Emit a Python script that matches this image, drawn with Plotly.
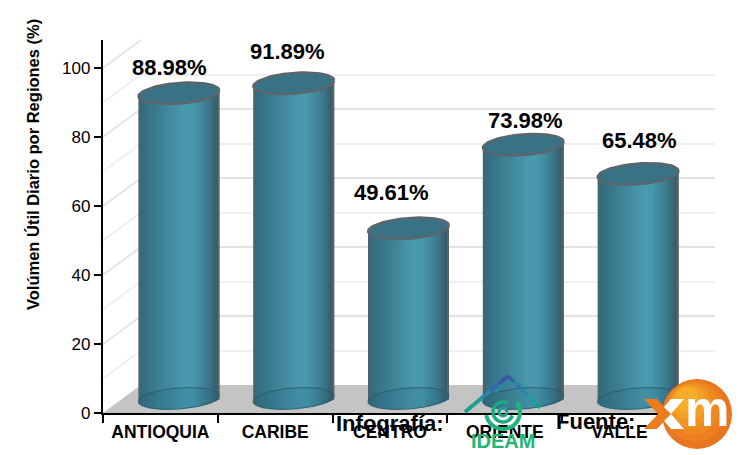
import math
import plotly.graph_objects as go

categories = ["ANTIOQUIA", "CARIBE", "CENTRO", "ORIENTE", "VALLE"]
values = [88.98, 91.89, 49.61, 73.98, 65.48]
value_labels = ["88.98%", "91.89%", "49.61%", "73.98%", "65.48%"]
y_ticks = [0, 20, 40, 60, 80, 100]
major_grid = [20, 40, 60, 80, 100]
minor_grid = [10, 30, 50, 70, 90]

W, H = 743, 455
SANS = "Liberation Sans, Arial, sans-serif"
PAGE = 8  # the page's own body margin

def px(x):
    return (x - PAGE) / W

def py(y):
    return 1 - (y - PAGE) / H

# Pixel geometry of the pseudo-3D frame
X0, X1, Y0, SCALE = 103.0, 677.0, 413.0, 3.45
DX, DY = 38.0, 28.0
CYL_DX, CYL_BASE, CYL_SCALE = 18.5, 398.5, 3.43
A = 40.5 / 114.8
B = 10.5 / CYL_SCALE
TILT = 3.0 / CYL_SCALE

fig = go.Figure()

# Subplot 1: back wall with native gridlines
fig.add_trace(go.Scatter(x=[0], y=[0], mode="markers", marker=dict(opacity=0), xaxis="x", yaxis="y",
                         hoverinfo="skip", showlegend=False))

# Subplot 2: main axes with categories
fig.add_trace(go.Bar(x=categories, y=[0] * 5, xaxis="x2", yaxis="y2", hoverinfo="skip", showlegend=False))


def side_colour(u):
    stops = [(-1.0, (86, 96, 102)), (-0.93, (52, 108, 126)), (-0.5, (60, 126, 146)), (0.15, (74, 154, 176)),
             (0.35, (72, 152, 174)), (0.75, (58, 118, 136)), (0.93, (56, 92, 106)), (1.0, (98, 104, 108))]
    for (a, ca), (b, cb) in zip(stops, stops[1:]):
        if a <= u <= b:
            t = (u - a) / (b - a)
            return "rgb(%d,%d,%d)" % tuple(round(p + (q - p) * t) for p, q in zip(ca, cb))
    return "rgb(72,152,174)"


# Subplot 3: cylinders, one bar strip per gradient step, painted left to right with overlap
N = 40
step = 2 * A / N
for k in range(N):
    u = 2 * (k + 0.5) / N - 1
    sag = B * math.sqrt(max(0, 1 - u * u))
    bases = [-sag + TILT * u for _ in values]
    lengths = [v + TILT * u - b for v, b in zip(values, bases)]
    left = -A + k * step
    wid = step * (2 if k < N - 1 else 1)
    fig.add_trace(go.Bar(
        x=[i + left + wid / 2 for i in range(len(values))], y=lengths, base=bases,
        width=wid, marker=dict(color=side_colour(u), line=dict(width=0)),
        xaxis="x3", yaxis="y3", hoverinfo="skip", showlegend=False))

ts = [2 * math.pi * j / 72 for j in range(73)]
for i, v in enumerate(values):
    # base ellipse, visible through the translucent wall
    fig.add_trace(go.Scatter(
        x=[i + A * math.cos(t) for t in ts],
        y=[B * math.sin(t) + TILT * math.cos(t) for t in ts],
        mode="lines", fill="toself", fillcolor="rgba(35,95,115,0.18)",
        line=dict(color="rgba(40,90,108,0.7)", width=1.2),
        xaxis="x3", yaxis="y3", hoverinfo="skip", showlegend=False))
    # top ellipse
    fig.add_trace(go.Scatter(
        x=[i + A * math.cos(t) for t in ts],
        y=[v + B * math.sin(t) + TILT * math.cos(t) for t in ts],
        mode="lines", fill="toself", fillcolor="#3a7285",
        line=dict(color="#5f6468", width=2.2),
        xaxis="x3", yaxis="y3", hoverinfo="skip", showlegend=False))

shapes = []


def poly(points, fill=None, line=None, width=0, layer="above"):
    d = "M " + " L ".join(f"{px(x):.5f} {py(y):.5f}" for x, y in points)
    if fill:
        d += " Z"
    shapes.append(dict(type="path", xref="paper", yref="paper", path=d, fillcolor=fill or "rgba(0,0,0,0)",
                       line=dict(color=line or "rgba(0,0,0,0)", width=width), layer=layer))


def circle(cx, cy, r, fill=None, line=None, width=0):
    shapes.append(dict(type="circle", xref="paper", yref="paper",
                       x0=px(cx - r), x1=px(cx + r), y0=py(cy + r), y1=py(cy - r),
                       fillcolor=fill or "rgba(0,0,0,0)",
                       line=dict(color=line or "rgba(0,0,0,0)", width=width), layer="above"))


def arc(cx, cy, r, a0, a1, color, width):
    pts = [(cx + r * math.cos(math.radians(a0 + (a1 - a0) * j / 24)),
            cy - r * math.sin(math.radians(a0 + (a1 - a0) * j / 24))) for j in range(25)]
    poly(pts, line=color, width=width)


# Floor
poly([(X0, Y0), (X0 + DX, Y0 - DY), (X1 + DX, Y0 - DY), (X1, Y0)], fill="#c4c4c4", layer="below")
# Side wall lines
for g, col, wd in [(t, "#f0f0f0", 2) for t in minor_grid] + [(t, "#e4e4e4", 2) for t in major_grid]:
    y = Y0 - SCALE * g
    poly([(X0, y), (X0 + DX, y - DY)], line=col, width=wd, layer="below")

# IDEAM logo
for j, col in enumerate(["#18a28a", "#1f9a9a", "#2a84a8", "#3468ad", "#3b55a8"]):
    poly([(465 + j * 8.6, 412 - j * 7.2), (473.6 + j * 8.6, 404.8 - j * 7.2)], line=col, width=4)
for j, col in enumerate(["#3b55a8", "#3468ad", "#2a84a8", "#1f9a9a", "#18a28a"]):
    poly([(508 + j * 6.4, 376 + j * 6.4), (514.4 + j * 6.4, 382.4 + j * 6.4)], line=col, width=3)
arc(503, 412, 17, 190, 395, "#1fb57a", 4)
arc(503, 412, 10, 60, 340, "#1fa884", 3.5)
arc(503, 412, 4, 0, 360, "#1fa090", 3)
arc(512, 402, 19, 60, 150, "#2a8aa0", 3)

# XM logo
cx, cy = 697, 414
for j, col in enumerate(["#e8751f", "#ec7f1f", "#ef8a20", "#f29522", "#f5a126", "#f8ad2a"]):
    r = 35 - j * 4.5
    circle(cx - j * 2.0, cy - j * 2.8, r, fill=col)
poly([(644, 399), (657, 399), (671, 414), (657, 429), (644, 429), (658, 414)], fill="#ee7c1c")
poly([(664, 407), (671, 399), (684, 399), (671, 414), (684, 429), (671, 429), (664, 421), (671, 414)], fill="#ffffff")

annotations = []
label_pos = [(169, 68), (287, 52), (391, 192), (525, 120), (639, 140)]
for text, (x, y) in zip(value_labels, label_pos):
    annotations.append(dict(text=f"<b>{text}</b>", x=px(x), y=py(y), xref="paper", yref="paper", showarrow=False,
                            xanchor="center", yanchor="middle", font=dict(family=SANS, size=22, color="#000")))
annotations += [
    dict(text="<b>Volúmen Útil Diario por Regiones (%)</b>", x=px(33), y=py(165), xref="paper", yref="paper",
         showarrow=False, textangle=-90, xanchor="center", yanchor="middle",
         font=dict(family=SANS, size=16.5, color="#000")),
    dict(text="<b>Infografía:</b>", x=px(390), y=py(423), xref="paper", yref="paper", showarrow=False,
         xanchor="center", yanchor="middle", font=dict(family=SANS, size=22, color="#000")),
    dict(text="<b>Fuente:</b>", x=px(595), y=py(421), xref="paper", yref="paper", showarrow=False,
         xanchor="center", yanchor="middle", font=dict(family=SANS, size=22, color="#000")),
    dict(text="<b>IDEAM</b>", x=px(503), y=py(441), xref="paper", yref="paper", showarrow=False,
         xanchor="center", yanchor="middle", font=dict(family=SANS, size=20, color="#22b573")),
    dict(text="<b>m</b>", x=px(707), y=py(409), xref="paper", yref="paper", showarrow=False,
         xanchor="center", yanchor="middle", font=dict(family=SANS, size=50, color="#ffffff")),
]

hidden = dict(visible=False, fixedrange=True, automargin=False)
fig.update_layout(
    template="none",
    width=W, height=H, margin=dict(l=0, r=0, t=0, b=0, pad=0, autoexpand=False), paper_bgcolor="#ffffff",
    plot_bgcolor="rgba(0,0,0,0)",
    barmode="overlay", showlegend=False, shapes=shapes, annotations=annotations,
    # wall
    xaxis=dict(domain=[px(X0 + DX), px(X1 + DX)], range=[0, 1], showticklabels=False, ticks="", showgrid=False,
               zeroline=False, showline=False, automargin=False),
    yaxis=dict(domain=[py(Y0 - DY), py(Y0 - DY - SCALE * 100)], range=[0, 100], tickvals=major_grid,
               showgrid=True, gridcolor="#e2e2e2", gridwidth=2.2, showticklabels=False, ticks="", zeroline=False,
               showline=False, anchor="x", automargin=False,
               minor=dict(tickvals=minor_grid, showgrid=True, gridcolor="#f0f0f0", gridwidth=2.2, ticks="")),
    # main axes
    xaxis2=dict(domain=[px(X0), px(X1)], type="category", categoryorder="array", categoryarray=categories,
                tickson="boundaries", ticks="outside", ticklen=8, tickwidth=2, tickcolor="#000",
                showline=True, linecolor="#000", linewidth=2.4, showgrid=False, zeroline=False,
                tickfont=dict(family=SANS, size=17.5, color="#000"), anchor="y2", tickprefix="<b>", ticksuffix="</b>",
                range=[-0.5, 4.5], ticklabelstandoff=2, automargin=False),
    yaxis2=dict(domain=[py(Y0), py(40)], range=[0, (Y0 - 40) / SCALE], tickvals=y_ticks, ticks="outside", ticklen=7,
                tickwidth=2, tickcolor="#000", showline=True, linecolor="#000", linewidth=2.4, showgrid=False,
                zeroline=False, tickfont=dict(family=SANS, size=17, color="#000"), anchor="x2", automargin=False),
    # cylinders
    xaxis3=dict(domain=[px(X0 + CYL_DX), px(X1 + CYL_DX)], range=[-0.5, 4.5], **hidden),
    yaxis3=dict(domain=[py(CYL_BASE + 6 * CYL_SCALE), py(CYL_BASE - 100 * CYL_SCALE)], range=[-6, 100], **hidden),
)

fig.write_html("out.html")
